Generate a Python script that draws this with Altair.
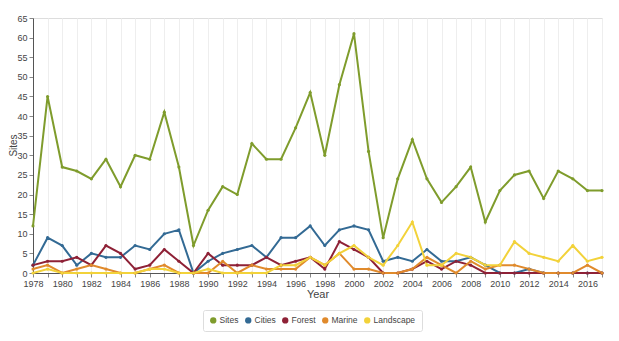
import altair as alt
import pandas as pd

years = list(range(1978, 2018))
series_names = ["Sites", "Cities", "Forest", "Marine", "Landscape"]

sites = [12, 45, 27, 26, 24, 29, 22, 30, 29, 41, 27, 7, 16, 22, 20, 33, 29, 29, 37, 46,
         30, 48, 61, 31, 9, 24, 34, 24, 18, 22, 27, 13, 21, 25, 26, 19, 26, 24, 21, 21]
cities = [2, 9, 7, 2, 5, 4, 4, 7, 6, 10, 11, 0, 3, 5, 6, 7, 4, 9, 9, 12,
          7, 11, 12, 11, 3, 4, 3, 6, 3, 3, 4, 2, 0, 0, 1, 0, 0, 0, 0, 0]
forest = [2, 3, 3, 4, 2, 7, 5, 1, 2, 6, 3, 0, 5, 2, 2, 2, 4, 2, 3, 4,
          1, 8, 6, 4, 0, 0, 1, 3, 1, 3, 2, 0, 0, 0, 0, 0, 0, 0, 0, 0]
marine = [1, 2, 0, 1, 2, 1, 0, 0, 1, 2, 0, 0, 0, 3, 0, 2, 1, 1, 1, 4,
          2, 5, 1, 1, 0, 0, 1, 4, 2, 0, 3, 1, 2, 2, 1, 0, 0, 0, 2, 0]
landscape = [0, 1, 0, 0, 0, 0, 0, 0, 1, 1, 0, 0, 1, 0, 0, 0, 0, 2, 2, 4,
             2, 5, 7, 4, 2, 7, 13, 2, 2, 5, 4, 2, 2, 8, 5, 4, 3, 7, 3, 4]

colors = ["#7f9c2c", "#336a94", "#8e2136", "#e08a2c", "#f2d23a"]

rows = []
for name, vals in zip(series_names, [sites, cities, forest, marine, landscape]):
    for y, v in zip(years, vals):
        rows.append({"Year": y, "Count": v, "Series": name})
df = pd.DataFrame(rows)

font = "Liberation Sans"

chart = alt.Chart(df).mark_line(
    strokeWidth=2,
    point=alt.OverlayMarkDef(size=10, filled=True),
).encode(
    x=alt.X("Year:Q",
            scale=alt.Scale(domain=[1978, 2017], nice=False, zero=False),
            axis=alt.Axis(values=years, labelExpr="datum.value % 2 == 0 ? datum.value : ''",
                          grid=True, gridColor="#eeeeee", tickColor="#888", domainColor="#555",
                          tickSize=4, labelFontSize=9, labelColor="#444", labelFont=font,
                          title="Year", titleFont=font, titleFontSize=11, titleFontWeight="normal",
                          titleColor="#444", titlePadding=0, labelPadding=2, labelFlush=False)),
    y=alt.Y("Count:Q",
            scale=alt.Scale(domain=[0, 65], nice=False),
            axis=alt.Axis(values=list(range(0, 66, 5)), grid=False, tickColor="#888",
                          domainColor="#555", tickSize=4, labelFontSize=9, labelColor="#444",
                          labelFont=font, title="Sites", titleFont=font, titleFontSize=10,
                          titleFontWeight="normal", titleColor="#444",
                          titleX=-15, titleY=127, titleAngle=270, titleBaseline="bottom",
                          labelPadding=2)),
    color=alt.Color("Series:N",
                    scale=alt.Scale(domain=series_names, range=colors),
                    sort=series_names,
                    legend=alt.Legend(title=None, orient="none", direction="horizontal",
                                      legendX=170, legendY=292, symbolType="circle",
                                      symbolSize=40, symbolStrokeWidth=0, labelFontSize=8.5,
                                      labelFont=font, labelColor="#444", columnPadding=5,
                                      labelOffset=2,
                                      strokeColor="#dddddd", padding=6, cornerRadius=2,
                                      fillColor="white")),
).properties(
    width=569,
    height=255,
    autosize=alt.AutoSizeParams(type="none"),
    padding={"left": 33, "top": 18, "right": 17, "bottom": 68},
).configure_view(stroke=None).configure(background="white")

chart.save("out.html", embed_options={"renderer": "svg", "actions": False})
